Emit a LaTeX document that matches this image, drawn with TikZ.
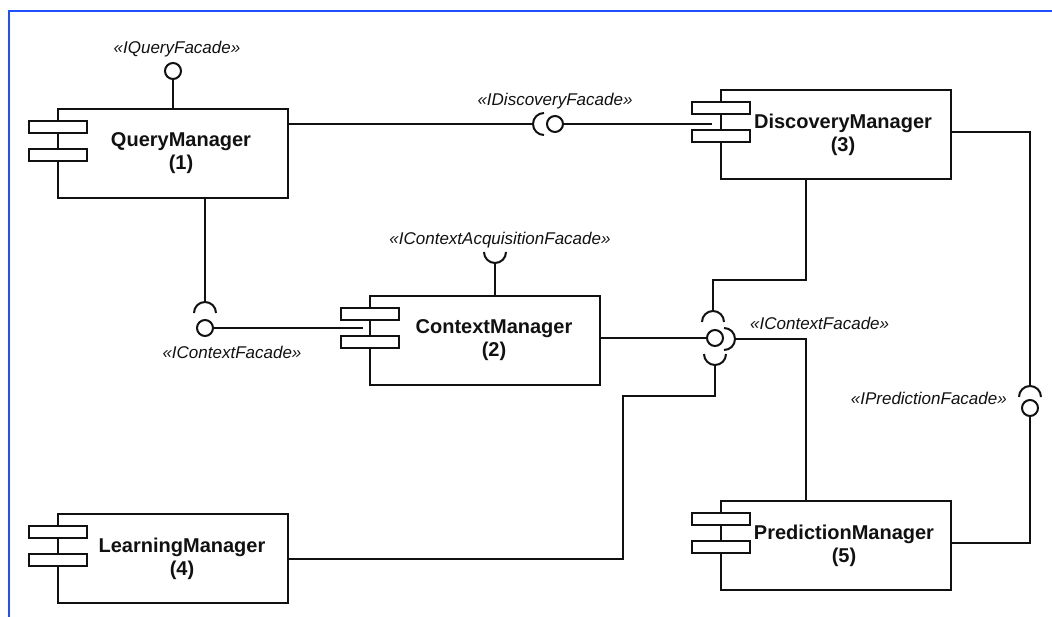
\documentclass[tikz,border=0pt]{standalone}
\usepackage{fontspec}
\setmainfont{Liberation Sans}
\usepackage{tikz}
\usetikzlibrary{calc}
\definecolor{tinta}{HTML}{111111}
\definecolor{marco}{HTML}{1E50FF}
% semicirculo de conector requerido: vertice y angulo del vertice
\newcommand{\enchufe}[2]{%
  \draw[linea] (#1) arc[start angle=#2,end angle=#2+90,radius=11]
               (#1) arc[start angle=#2,end angle=#2-90,radius=11];}

\begin{document}
\begin{tikzpicture}[x=1pt,y=-1pt,
    componente/.style={draw=tinta,line width=2pt,minimum width=230pt,
                       minimum height=89pt,inner sep=0pt},
    nombre/.style={align=center,text=tinta,
                   font=\bfseries\fontsize{20}{23}\selectfont},
    pestana/.style={draw=tinta,fill=white,line width=1.8pt},
    bola/.style={circle,draw=tinta,fill=white,line width=2pt,
                 minimum size=16pt,inner sep=0pt},
    linea/.style={draw=tinta,line width=2pt},
    etiq/.style={font=\itshape\fontsize{17}{20}\selectfont,text=tinta,
                 inner sep=0pt}]
  \useasboundingbox (0,0) rectangle (1052,617);
  \draw[marco,line width=2.6pt] (9,617) -- (9,11) -- (1052,11);

  % componentes
  \node[componente] (qm) at (173,153.5) {};
  \node[componente] (cm) at (485,340.5) {};
  \node[componente] (dm) at (836,134.5) {};
  \node[componente] (lm) at (173,558.5) {};
  \node[componente] (pm) at (836,545.5) {};
  \node[nombre] (qmt) at ([xshift=8pt]qm.center) {QueryManager\\(1)};
  \node[nombre] (cmt) at ([xshift=9pt]cm.center) {ContextManager\\(2)};
  \node[nombre] (dmt) at ([xshift=7pt]dm.center) {DiscoveryManager\\(3)};
  \node[nombre] (lmt) at ([xshift=9pt]lm.center) {LearningManager\\(4)};
  \node[nombre] (pmt) at ([xshift=8pt]pm.center) {PredictionManager\\(5)};
  \foreach \c in {qm,cm,dm,lm,pm}{
    \draw[pestana] ($(\c.north west)+(-28,13)$) rectangle ++(58,12);
    \draw[pestana] ($(\c.north west)+(-28,41)$) rectangle ++(58,12);
  }

  % interfaces
  \node[bola] (b1) at (173,71) {};
  \node[bola] (b2) at (555,124) {};
  \node[bola] (b3) at (205,328) {};
  \node[bola] (b5) at (715,338) {};
  \node[bola] (b6) at (1030,408) {};
  \coordinate (s2) at (533,124);
  \coordinate (s3) at (205,302);
  \coordinate (s4) at (495,263);
  \coordinate (s5a) at (713,311);
  \coordinate (s5b) at (735,339);
  \coordinate (s5c) at (715,365);
  \coordinate (s6) at (1030,386);
  \enchufe{s2}{180}
  \enchufe{s3}{270}
  \enchufe{s4}{90}
  \enchufe{s5a}{270}
  \enchufe{s5b}{0}
  \enchufe{s5c}{90}
  \enchufe{s6}{270}

  % conexiones
  \coordinate (e2) at (712,124);
  \coordinate (e3) at (363,328);
  \coordinate (k1) at (806,280);
  \coordinate (k2) at (806,339);
  \coordinate (k3) at (623,396);
  \coordinate (k4) at (1030,132);
  \coordinate (k5) at (1030,543);
  \draw[linea] (qm) -- (b1);
  \draw[linea] (qm.east |- s2) -- (s2);
  \draw[linea] (b2) -- (e2);
  \draw[linea] (s3 |- qm.south) -- (s3);
  \draw[linea] (b3) -- (e3);
  \draw[linea] (s4) -- (s4 |- cm.north);
  \draw[linea] (cm.east |- b5) -- (b5);
  \draw[linea] (s5a) |- (k1) -- (k1 |- dm.south);
  \draw[linea] (s5b) -- (k2) -- (k2 |- pm.north);
  \draw[linea] (s5c) |- (k3) |- (lm.east);
  \draw[linea] (k4 -| dm.east) -- (k4) -- (s6);
  \draw[linea] (b6) -- (k5) -- (k5 -| pm.east);

  % rotulos
  \node[etiq] (l1) at (177,49) {«IQueryFacade»};
  \node[etiq] (l2) at (555,101) {«IDiscoveryFacade»};
  \node[etiq] (l3) at (232,352) {«IContextFacade»};
  \node[etiq] (l4) at (500,240) {«IContextAcquisitionFacade»};
  \node[etiq,anchor=west] (l5) at (750,323) {«IContextFacade»};
  \node[etiq,anchor=east] (l6) at (1007,398) {«IPredictionFacade»};
\end{tikzpicture}
\end{document}
